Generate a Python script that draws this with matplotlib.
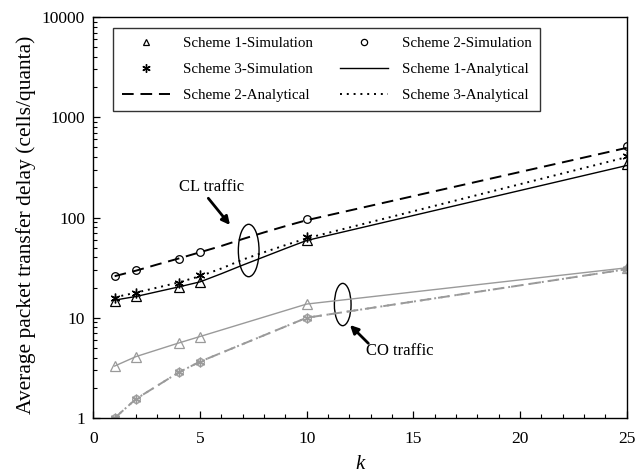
import matplotlib.pyplot as plt
import numpy as np
from matplotlib.patches import Ellipse
from matplotlib.lines import Line2D
from matplotlib.ticker import FixedLocator, LogLocator, NullFormatter, FuncFormatter

plt.rcParams['font.family'] = ['Liberation Serif', 'DejaVu Serif']

# simulation points
k_sim = [1, 2, 4, 5, 10, 25]
cl_s1_sim = [14.8, 16.5, 20.4, 22.9, 59.5, 340]
cl_s2_sim = [26.2, 29.7, 38.8, 44.9, 95.7, 520]
cl_s3_sim = [15.7, 17.8, 22.3, 26.7, 63.2, 409]
co_s1_sim = [3.3, 4.1, 5.6, 6.5, 13.7, 31.5]
co_s2_sim = [1.0, 1.55, 2.85, 3.64, 10.0, 30.5]
co_s3_sim = [1.0, 1.55, 2.85, 3.64, 10.0, 30.5]

# analytical curves
k_ana = [1, 2, 3, 4, 5, 6, 7, 8, 9, 10, 25]
cl_s1_ana = [15.0, 16.3, 18.2, 20.3, 22.8, 27.5, 33.5, 40.5, 49.0, 59.0, 330]
cl_s2_ana = [26.0, 29.5, 34.0, 39.0, 45.0, 52.0, 61.0, 71.0, 82.0, 94.0, 495]
cl_s3_ana = [16.0, 17.8, 20.0, 22.5, 26.0, 31.0, 38.0, 45.0, 53.0, 62.0, 400]
k_co_ana = [1, 2, 4, 5, 10, 25]
co_s1_ana = [3.3, 4.1, 5.6, 6.5, 13.7, 31.5]
co_s2_ana = [1.0, 1.55, 2.85, 3.65, 10.0, 30.5]
co_s3_ana = [1.0, 1.55, 2.85, 3.65, 10.0, 30.5]

gray = '#9a9a9a'
star = (6, 2, 0)

fig = plt.figure(figsize=(6.37, 4.76), dpi=100)
ax = fig.add_axes([0.1465, 0.1218, 0.8373, 0.8425])
ax.set_yscale('log')

# CL traffic (black)
ax.plot(k_ana, cl_s1_ana, '-', color='black', lw=1.0)
ax.plot(k_ana, cl_s2_ana, color='black', lw=1.4, dashes=(6, 3.5))
ax.plot(k_ana, cl_s3_ana, color='black', lw=1.4, dashes=(1, 2.5))
ax.plot(k_sim, cl_s1_sim, '^', ms=6.5, mfc='none', mec='black', mew=0.9)
ax.plot(k_sim, cl_s2_sim, 'o', ms=5.5, mfc='none', mec='black', mew=0.9)
ax.plot(k_sim, cl_s3_sim, marker=star, ls='none', ms=7, mec='black', mew=1.0)

# CO traffic (gray)
ax.plot(k_co_ana, co_s1_ana, '-', color=gray, lw=1.0)
ax.plot(k_co_ana, co_s2_ana, color=gray, lw=1.4, dashes=(6, 3.5))
ax.plot(k_co_ana, co_s3_ana, color=gray, lw=1.4, dashes=(1, 2.5))
ax.plot(k_sim, co_s1_sim, '^', ms=6.5, mfc='none', mec=gray, mew=0.9)
ax.plot(k_sim, co_s2_sim, 'o', ms=5.5, mfc='none', mec=gray, mew=0.9)
ax.plot(k_sim, co_s3_sim, marker=star, ls='none', ms=7, mec=gray, mew=1.0)

# ellipses and annotations
ax.add_patch(Ellipse((0.2913, 0.4177), 0.0388, 0.1307, transform=ax.transAxes,
                     fill=False, ec='black', lw=1.0))
ax.add_patch(Ellipse((0.4676, 0.283), 0.0313, 0.1055, transform=ax.transAxes,
                     fill=False, ec='black', lw=1.0))
arrow = dict(arrowstyle='-|>', color='black', lw=2.0, mutation_scale=12,
             shrinkA=0, shrinkB=0)
ax.annotate('', xy=(0.2563, 0.4813), xytext=(0.2156, 0.548),
            xycoords='axes fraction', textcoords='axes fraction', arrowprops=arrow)
ax.annotate('', xy=(0.4812, 0.2319), xytext=(0.5156, 0.1863),
            xycoords='axes fraction', textcoords='axes fraction', arrowprops=arrow)
ax.text(0.2226, 0.5753, 'CL traffic', transform=ax.transAxes,
        ha='center', va='center', fontsize=12)
ax.text(0.574, 0.167, 'CO traffic', transform=ax.transAxes,
        ha='center', va='center', fontsize=12)

# legend
handles = [
    Line2D([], [], ls='none', marker='^', ms=5, mfc='none', mec='black', mew=0.9),
    Line2D([], [], ls='none', marker=star, ms=6, mec='black', mew=1.0),
    Line2D([], [], color='black', lw=1.4, dashes=(6, 3.5)),
    Line2D([], [], ls='none', marker='o', ms=4.5, mfc='none', mec='black', mew=0.9),
    Line2D([], [], color='black', lw=1.0),
    Line2D([], [], color='black', lw=1.4, dashes=(1, 2.5)),
]
labels = ['Scheme 1-Simulation', 'Scheme 3-Simulation', 'Scheme 2-Analytical',
          'Scheme 2-Simulation', 'Scheme 1-Analytical', 'Scheme 3-Analytical']
leg = ax.legend(handles, labels, ncol=2, loc='upper left',
                bbox_to_anchor=(0.0375, 0.972, 0.80, 0.0), mode='expand',
                borderaxespad=0, frameon=True, fancybox=False, edgecolor='black',
                fontsize=10.8, handlelength=3.2, handletextpad=0.9,
                columnspacing=1.5, labelspacing=0.85, borderpad=0.55)
leg.get_frame().set_linewidth(1.0)

# axes and ticks
ax.set_xlim(0, 25)
ax.set_ylim(1, 10000)
ax.xaxis.set_major_locator(FixedLocator([0, 5, 10, 15, 20, 25]))
ax.xaxis.set_minor_locator(FixedLocator(np.arange(0, 26, 1)))
ax.yaxis.set_major_locator(LogLocator(base=10))
ax.yaxis.set_minor_locator(LogLocator(base=10, subs=np.arange(2, 10)))
ax.yaxis.set_minor_formatter(NullFormatter())
ax.yaxis.set_major_formatter(FuncFormatter(lambda v, p: '%d' % v))
ax.tick_params(which='both', direction='in', top=False, right=False, labelsize=12.5)
ax.tick_params(which='major', length=5, width=0.9)
ax.tick_params(axis='x', which='major', pad=9)
ax.tick_params(axis='y', which='major', pad=6)
ax.tick_params(which='minor', length=3, width=0.8)
for s in ax.spines.values():
    s.set_linewidth(1.0)

ax.set_xlabel('k', fontsize=15, fontstyle='italic')
ax.xaxis.label.set_verticalalignment('baseline')
ax.xaxis.set_label_coords(0.5, -0.128)
ax.set_ylabel('Average packet transfer delay (cells/quanta)', fontsize=15.5)
ax.yaxis.set_label_coords(-0.107, 0.481)

fig.savefig('out.png', dpi=100)
